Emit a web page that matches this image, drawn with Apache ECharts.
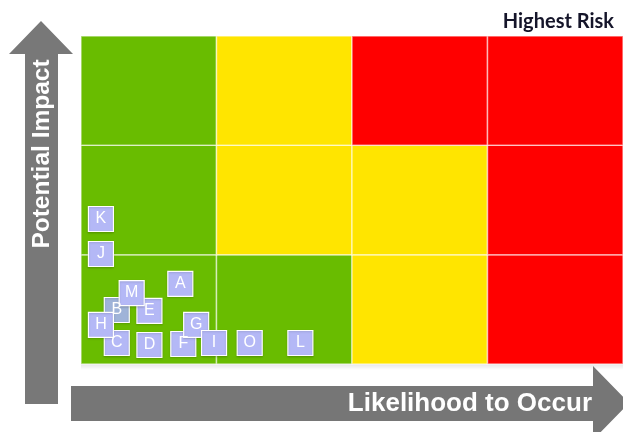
<!DOCTYPE html>
<html><head><meta charset="utf-8">
<script src="https://cdn.jsdelivr.net/npm/echarts@6/dist/echarts.min.js"></script>
<style>html,body{margin:0;padding:0;background:#fff}#c{width:623px;height:432px}</style>
</head><body><div id="c"></div>
<script>
// Matrix layout: columns = likelihood (0..3), rows = impact (0 bottom .. 2 top)
const likelihoodCols = [0, 1, 2, 3];
const impactRows = [0, 1, 2];
// zone per cell: row-major from bottom row
const zoneGrid = [
  ['green', 'green', 'yellow', 'red'],   // low impact
  ['green', 'yellow', 'yellow', 'red'],  // medium impact
  ['green', 'yellow', 'red', 'red']      // high impact
];
// Risk items (draw order = stacking order)
const riskNames = ['B', 'C', 'H', 'E', 'M', 'D', 'A', 'F', 'G', 'I', 'O', 'L', 'K', 'J'];
const riskLikelihood = [0.264, 0.264, 0.147, 0.505, 0.374, 0.505, 0.733, 0.755, 0.850, 0.982, 1.245, 1.619, 0.147, 0.147];
const riskImpact = [0.494, 0.192, 0.357, 0.485, 0.649, 0.174, 0.732, 0.183, 0.357, 0.192, 0.192, 0.192, 1.326, 1.006];
const axisTitleX = 'Likelihood to Occur';
const axisTitleY = 'Potential Impact';
const cornerNote = 'Highest Risk';

const zoneColors = { green: '#69bc00', yellow: '#ffe500', red: '#ff0000' };

const cellData = [];
impactRows.forEach(r => likelihoodCols.forEach(c => cellData.push([c, r, zoneGrid[r][c]])));

const chart = echarts.init(document.getElementById('c'));
chart.setOption({
  animation: false,
  grid: { left: 81, top: 36, width: 546, height: 328 },
  xAxis: { type: 'value', min: 0, max: 4, interval: 1, show: false },
  yAxis: { type: 'value', min: 0, max: 3, interval: 1, show: false },
  graphic: [
    { type: 'rect', shape: { x: 81, y: 364, width: 546, height: 6 },
      style: { fill: new echarts.graphic.LinearGradient(0, 0, 0, 1, [{ offset: 0, color: 'rgba(0,0,0,0.10)' }, { offset: 1, color: 'rgba(0,0,0,0)' }]) } },
    { type: 'polygon', shape: { points: [[41, 21], [9, 54], [25, 54], [25, 404], [58, 404], [58, 54], [73, 54]] },
      style: { fill: '#787878' } },
    { type: 'text', x: 42, y: 154, rotation: Math.PI / 2,
      style: { text: axisTitleY, fill: '#fff', font: 'bold 24.5px "Liberation Sans", Arial', align: 'center', verticalAlign: 'middle' } },
    { type: 'polygon', shape: { points: [[71, 386], [593, 386], [593, 366], [629, 403], [593, 440], [593, 421], [71, 421]] },
      style: { fill: '#767676' } },
    { type: 'text', x: 592, y: 404,
      style: { text: axisTitleX, fill: '#fff', font: 'bold 26px "Liberation Sans", Arial', align: 'right', verticalAlign: 'middle' } },
    { type: 'text', x: 614, y: 22,
      style: { text: cornerNote, fill: '#15152a', font: 'bold 20px Lato, "Open Sans", sans-serif', align: 'right', verticalAlign: 'middle' } }
  ],
  series: [
    {
      type: 'custom',
      data: cellData,
      z: 1,
      renderItem: function (params, api) {
        const p0 = api.coord([api.value(0), api.value(1) + 1]);
        const p1 = api.coord([api.value(0) + 1, api.value(1)]);
        const zone = cellData[params.dataIndex][2];
        return {
          type: 'rect',
          shape: { x: p0[0], y: p0[1], width: p1[0] - p0[0], height: p1[1] - p0[1] },
          style: { fill: zoneColors[zone], stroke: 'rgba(255,255,255,0.55)', lineWidth: 1.5 }
        };
      }
    },
    {
      type: 'scatter',
      z: 3,
      symbol: 'rect',
      symbolSize: 25,
      data: riskNames.map((n, i) => ({
        name: n,
        value: [riskLikelihood[i], riskImpact[i]],
        itemStyle: n === 'B' ? { color: '#9fb3d8', opacity: 1 } : undefined
      })),
      itemStyle: { color: '#b4b8f6', opacity: 1, borderColor: '#ffffff', borderWidth: 1.2,
        shadowColor: 'rgba(0,0,0,0.15)', shadowBlur: 2, shadowOffsetY: 1 },
      label: { show: true, position: 'inside', formatter: '{b}', color: '#fff',
        fontSize: 16, fontFamily: '"Liberation Sans", Arial' }
    }
  ]
});
</script></body></html>
